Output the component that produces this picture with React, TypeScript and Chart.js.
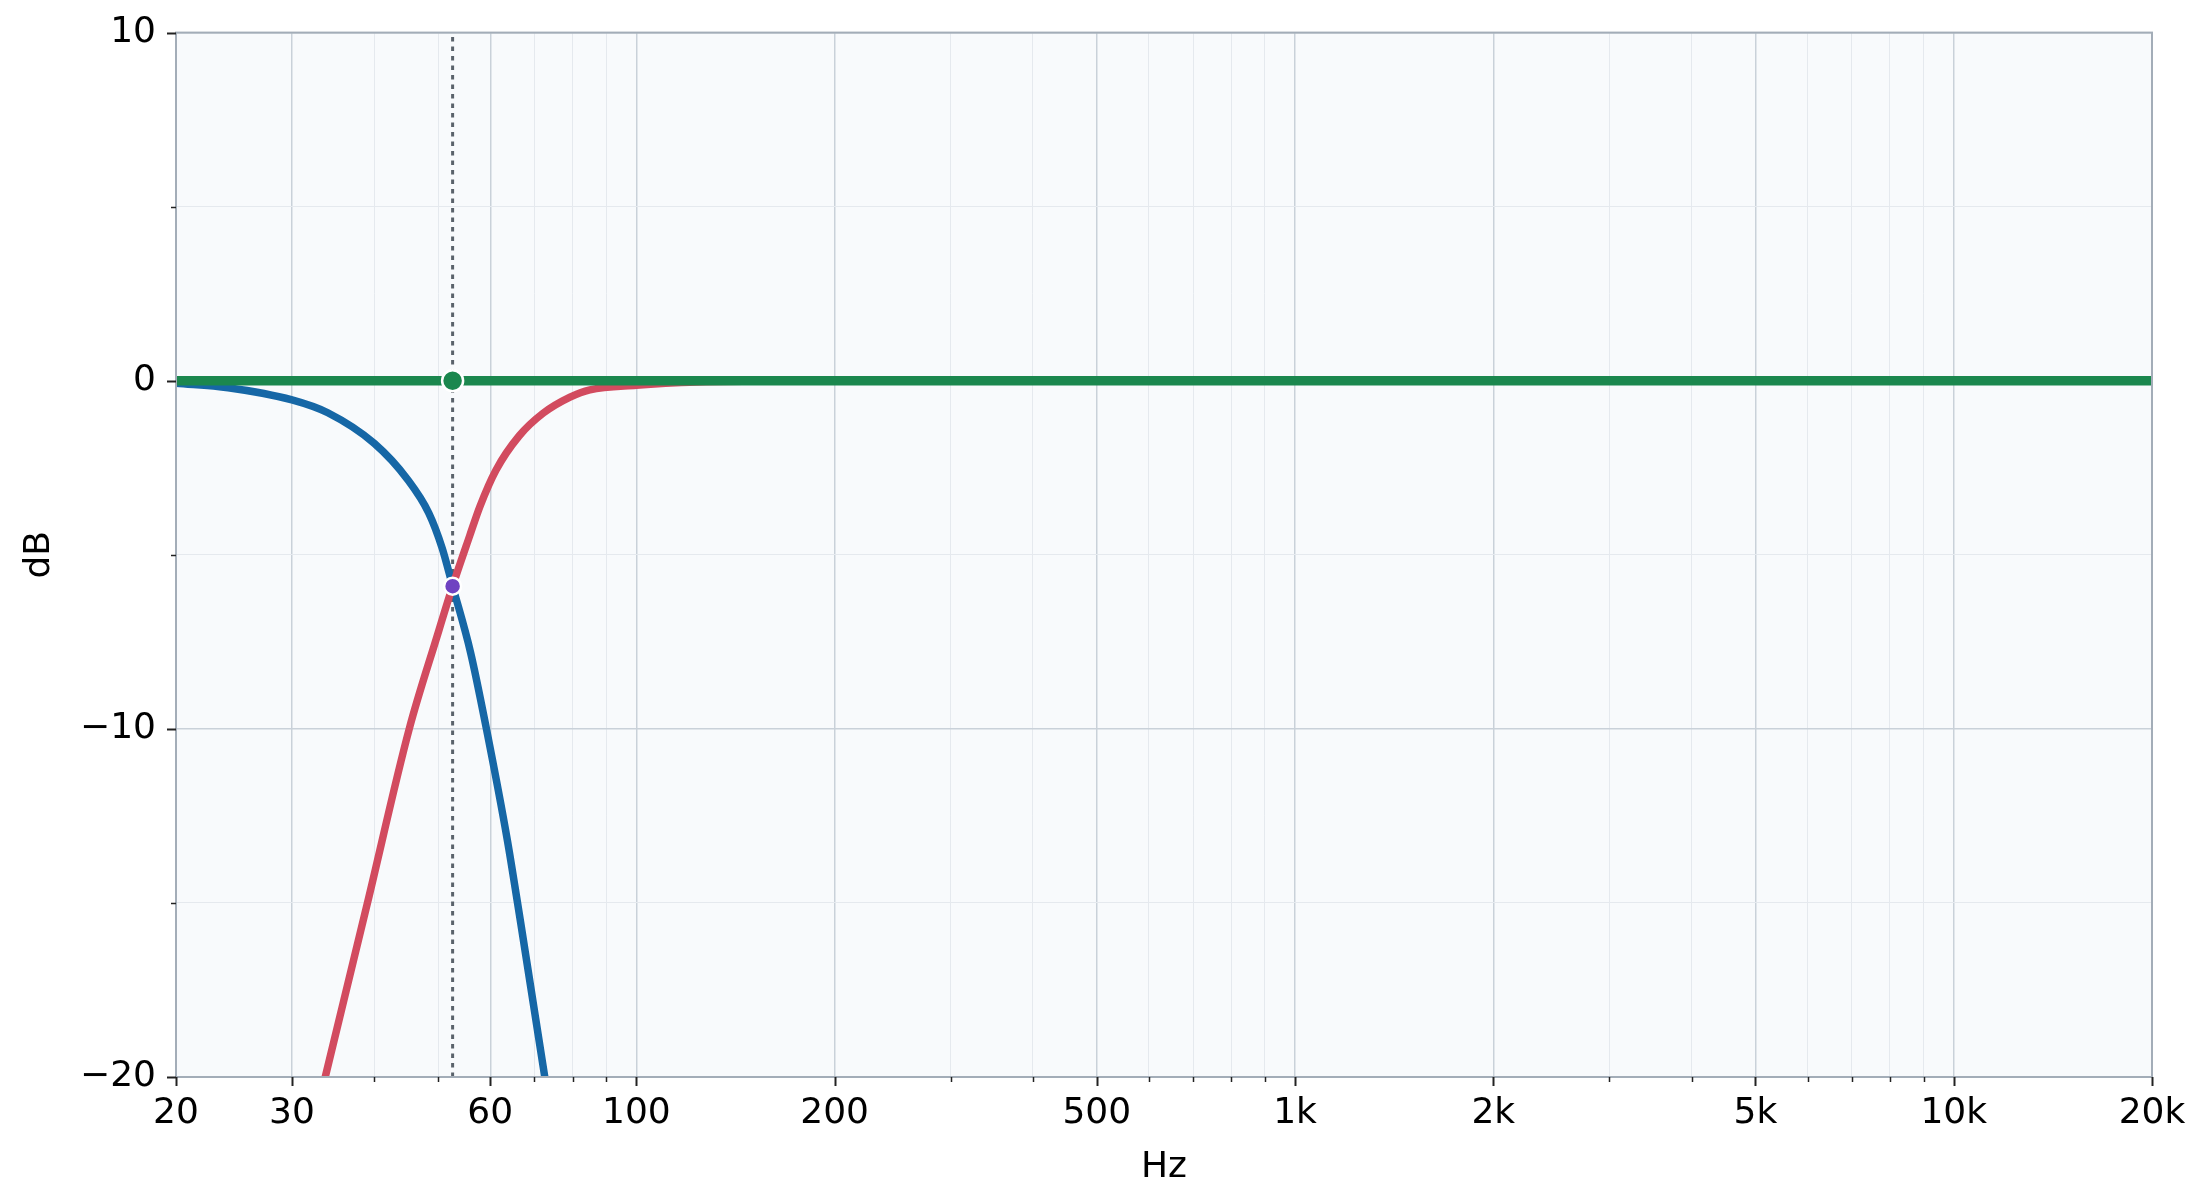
import React, { useEffect, useRef } from "react";
import { Chart, registerables } from "chart.js";

Chart.register(...registerables);

// ---- data ----
const lowFreq = [20, 24, 30, 34, 40, 45, 48.4, 50.7, 52.6, 56, 59.2, 63.7, 66, 72.6, 76];
const lowDb = [-0.07, -0.2, -0.55, -0.92, -1.8, -2.85, -3.8, -4.8, -5.9, -7.8, -10, -13.2, -15, -20, -22.6];

const highFreq = [31.5, 33.7, 39, 45.2, 49.8, 52.6, 55.8, 57.9, 61.2, 66.4, 72.2, 79.3, 85, 100, 124, 163, 20000];
const highDb = [-22.3, -20, -15.05, -10, -7.35, -5.9, -4.47, -3.6, -2.57, -1.58, -0.93, -0.47, -0.26, -0.13, -0.04, -0.01, 0];

const sumFreq = [20, 20000];
const sumDb = [0, 0];

const crossoverFreq = 52.6;
const crossoverDb = -5.9;
const sumAtCrossoverDb = 0;

const xMajorTicks = [20, 30, 60, 100, 200, 500, 1000, 2000, 5000, 10000, 20000];
const xTickLabels = ["20", "30", "60", "100", "200", "500", "1k", "2k", "5k", "10k", "20k"];
const xMinorTicks = [40, 50, 70, 80, 90, 300, 400, 600, 700, 800, 900, 3000, 4000, 6000, 7000, 8000, 9000];

const yMajorTicks = [-20, -10, 0, 10];
const yTickLabels = ["\u221220", "\u221210", "0", "10"];
const yMinorTicks = [-15, -5, 5];

const xTitle = "Hz";
const yTitle = "dB";

// ---- styles ----
const FONT = "'DejaVu Sans', 'Liberation Sans', sans-serif";
const MAJOR_GRID = "#c9d1d9";
const MINOR_GRID = "#e5e9ee";
const SPINE = "#a3adb8";
const PLOT_BG = "#f8fafc";
const TEXT = "#000000";

const App: React.FC = () => {
  const ref = useRef<HTMLCanvasElement | null>(null);

  useEffect(() => {
    if (!ref.current) return;
    const xMajorSet = new Set(xMajorTicks);
    const yMajorSet = new Set(yMajorTicks);

    const framePlugin = {
      id: "frame",
      beforeDraw(chart: any) {
        const { ctx, chartArea: a } = chart;
        ctx.save();
        ctx.fillStyle = PLOT_BG;
        ctx.fillRect(a.left, a.top, a.right - a.left, a.bottom - a.top);
        ctx.restore();
      },
      afterDraw(chart: any) {
        const { ctx, chartArea: a } = chart;
        const xs = chart.scales.x;
        const ys = chart.scales.y;
        ctx.save();
        ctx.strokeStyle = SPINE;
        ctx.lineWidth = 2;
        ctx.strokeRect(a.left, a.top, a.right - a.left, a.bottom - a.top);
        ctx.strokeStyle = "#222";
        [...xMajorTicks, ...xMinorTicks].forEach((v) => {
          const major = xMajorSet.has(v);
          const px = Math.round(xs.getPixelForValue(v)) + 0.5;
          ctx.lineWidth = major ? 2 : 1.5;
          ctx.beginPath();
          ctx.moveTo(px, a.bottom);
          ctx.lineTo(px, a.bottom + (major ? 9 : 5));
          ctx.stroke();
        });
        [...yMajorTicks, ...yMinorTicks].forEach((v) => {
          const major = yMajorSet.has(v);
          const py = Math.round(ys.getPixelForValue(v)) + 0.5;
          ctx.lineWidth = major ? 2 : 1.5;
          ctx.beginPath();
          ctx.moveTo(a.left, py);
          ctx.lineTo(a.left - (major ? 9 : 5), py);
          ctx.stroke();
        });
        ctx.restore();
      },
    };

    const chart = new Chart(ref.current, {
      type: "line",
      data: {
        datasets: [
          {
            label: "crossover point",
            data: [{ x: crossoverFreq, y: crossoverDb }],
            showLine: false,
            pointRadius: 8.5,
            pointBackgroundColor: "#6f42c1",
            pointBorderColor: "#ffffff",
            pointBorderWidth: 2.5,
            order: 0,
          },
          {
            label: "sum point",
            data: [{ x: crossoverFreq, y: sumAtCrossoverDb }],
            showLine: false,
            pointRadius: 10.5,
            pointBackgroundColor: "#1b874e",
            pointBorderColor: "#ffffff",
            pointBorderWidth: 2.5,
            order: 1,
          },
          {
            label: "Sum",
            data: sumFreq.map((f, i) => ({ x: f, y: sumDb[i] })),
            borderColor: "#1b874e",
            borderWidth: 9.5,
            pointRadius: 0,
            order: 2,
          },
          {
            label: "High-pass",
            data: highFreq.map((f, i) => ({ x: f, y: highDb[i] })),
            borderColor: "#d24b5f",
            borderWidth: 7.5,
            pointRadius: 0,
            cubicInterpolationMode: "monotone",
            order: 3,
          },
          {
            label: "Low-pass",
            data: lowFreq.map((f, i) => ({ x: f, y: lowDb[i] })),
            borderColor: "#1667a6",
            borderWidth: 7.5,
            pointRadius: 0,
            cubicInterpolationMode: "monotone",
            order: 4,
          },
          {
            label: "crossover",
            data: [
              { x: crossoverFreq, y: -20 },
              { x: crossoverFreq, y: 10 },
            ],
            borderColor: "#5a626b",
            borderWidth: 3,
            borderDash: [4.5, 5],
            pointRadius: 0,
            order: 5,
          },
        ],
      },
      options: {
        responsive: false,
        animation: false,
        events: [],
        layout: { padding: { top: 32, right: 52, left: 0, bottom: 0 } },
        plugins: {
          legend: { display: false },
          tooltip: { enabled: false },
        },
        scales: {
          x: {
            type: "logarithmic",
            min: 20,
            max: 20000,
            afterBuildTicks: (scale: any) => {
              scale.ticks = [...xMajorTicks, ...xMinorTicks]
                .sort((a, b) => a - b)
                .map((v) => ({ value: v, major: false }));
            },
            afterFit: (scale: any) => {
              scale.height = 127;
            },
            ticks: {
              autoSkip: false,
              maxRotation: 0,
              padding: 6,
              color: TEXT,
              font: { family: FONT, size: 36 },
              callback: (value: any) => {
                const i = xMajorTicks.indexOf(Number(value));
                return i >= 0 ? xTickLabels[i] : "";
              },
            },
            grid: {
              drawTicks: true,
              tickLength: 9,
              tickColor: "rgba(0,0,0,0)",
              color: (c: any) => (c.tick && xMajorSet.has(c.tick.value) ? MAJOR_GRID : MINOR_GRID),
              lineWidth: (c: any) => (c.tick && xMajorSet.has(c.tick.value) ? 1.5 : 1),
            },
            border: { display: false },
            title: {
              display: true,
              text: xTitle,
              color: TEXT,
              font: { family: FONT, size: 36 },
              padding: { top: 0, bottom: 15 },
            },
          },
          y: {
            type: "linear",
            min: -20,
            max: 10,
            afterBuildTicks: (scale: any) => {
              scale.ticks = [...yMajorTicks, ...yMinorTicks]
                .sort((a, b) => a - b)
                .map((v) => ({ value: v }));
            },
            afterFit: (scale: any) => {
              scale.width = 176;
            },
            ticks: {
              autoSkip: false,
              padding: 11,
              color: TEXT,
              font: { family: FONT, size: 36 },
              callback: (value: any) => {
                const i = yMajorTicks.indexOf(Number(value));
                return i >= 0 ? yTickLabels[i] : "";
              },
            },
            grid: {
              drawTicks: true,
              tickLength: 9,
              tickColor: "rgba(0,0,0,0)",
              color: (c: any) => (c.tick && yMajorSet.has(c.tick.value) ? MAJOR_GRID : MINOR_GRID),
              lineWidth: (c: any) => (c.tick && yMajorSet.has(c.tick.value) ? 1.5 : 1),
            },
            border: { display: false },
            title: {
              display: true,
              text: yTitle,
              color: TEXT,
              font: { family: FONT, size: 36 },
              padding: { top: 18, bottom: 0 },
            },
          },
        },
      },
      plugins: [framePlugin],
    } as any);

    return () => chart.destroy();
  }, []);

  return (
    <div style={{ position: "fixed", left: 0, top: 0, width: 2204, height: 1204, background: "#ffffff" }}>
      <canvas ref={ref} width={2204} height={1204} style={{ display: "block", width: 2204, height: 1204 }} />
    </div>
  );
};

export default App;
